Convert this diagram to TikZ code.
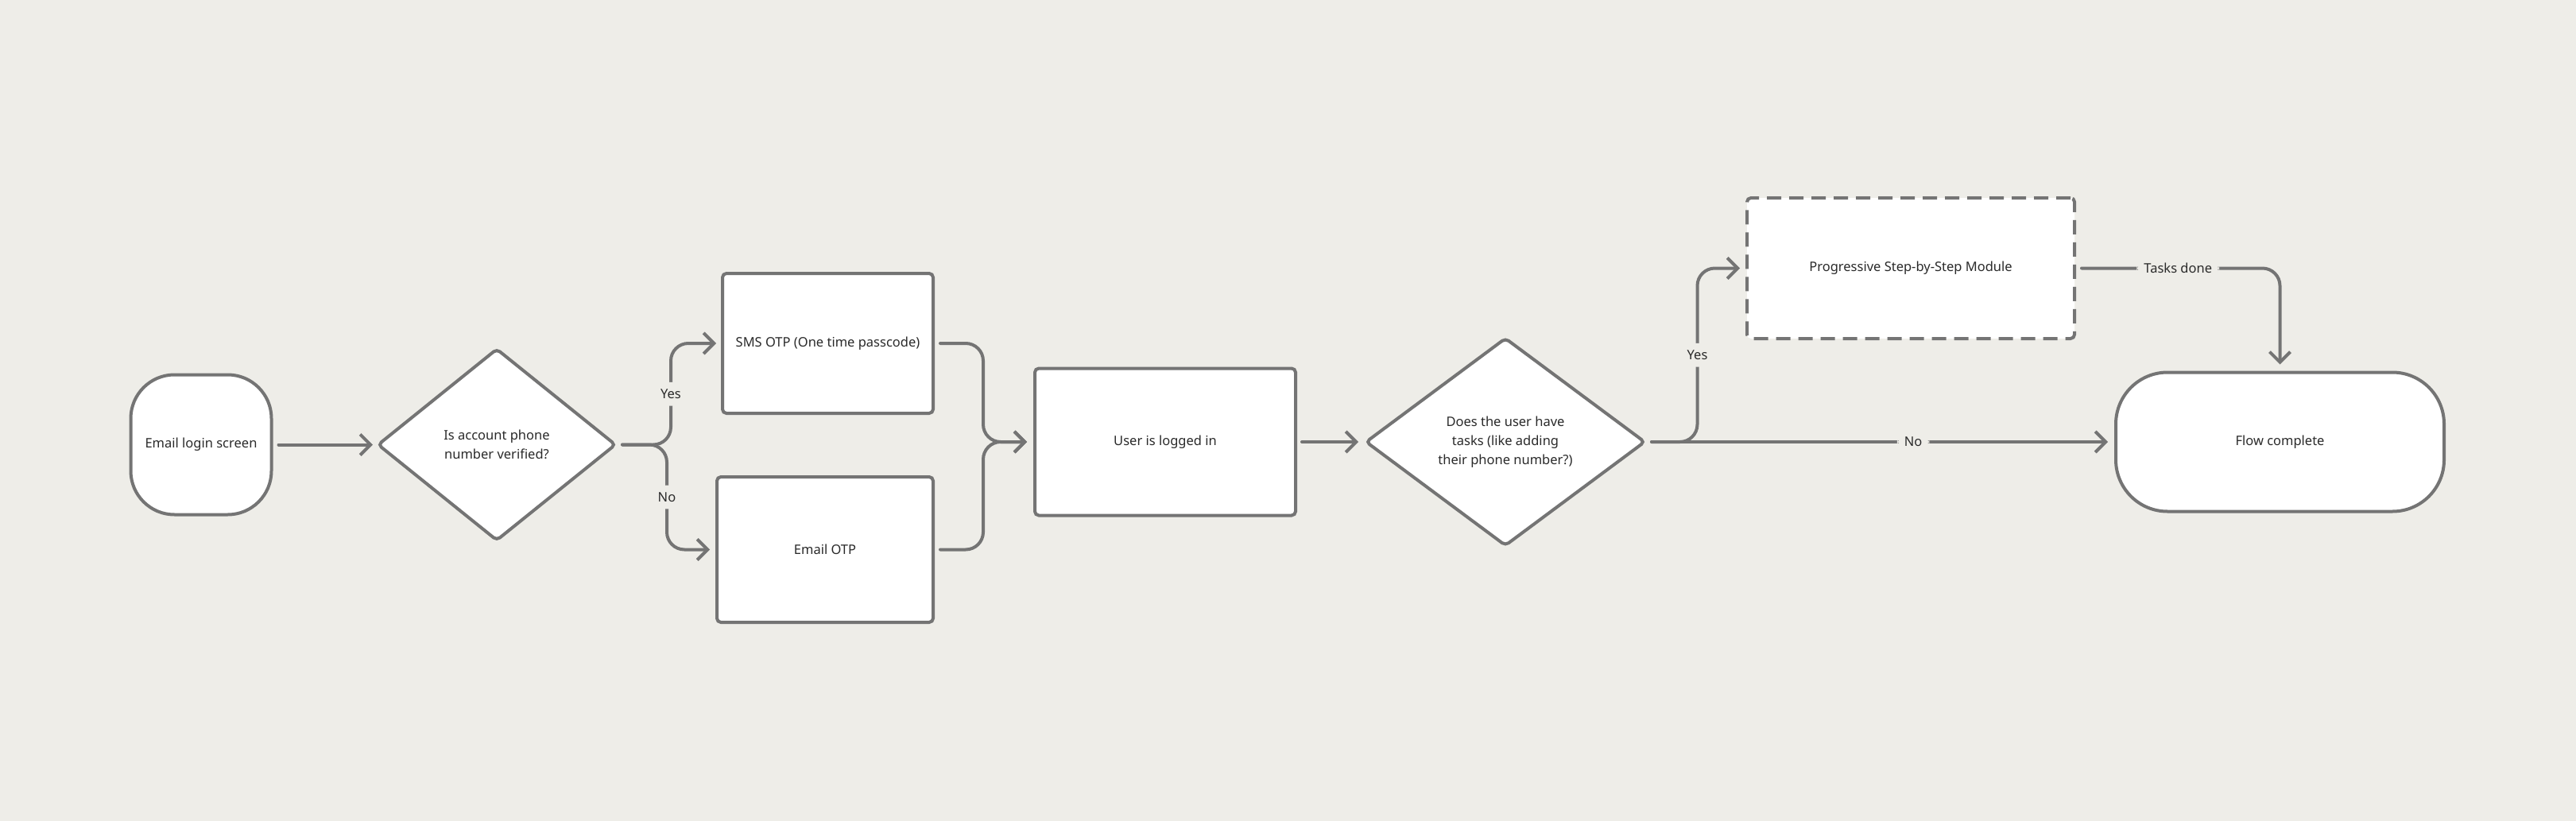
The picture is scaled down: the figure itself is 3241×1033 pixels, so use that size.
\documentclass[tikz,border=0pt]{standalone}
\usepackage{fontspec}
\setmainfont{Noto Sans}
\usetikzlibrary{shapes.geometric,arrows.meta}
\definecolor{bg}{HTML}{EEEDE8}
\definecolor{ln}{HTML}{747474}
\definecolor{tx}{HTML}{2A2A2A}
\begin{document}
\begin{tikzpicture}[x=1pt,y=-1pt,
  base/.style={draw=ln, line width=4pt, fill=white, text=tx,
    font=\fontsize{16.5}{24}\selectfont, align=center, inner sep=0pt},
  rbox/.style={base, rectangle, rounded corners=5pt},
  dia/.style={base, diamond, rounded corners=5pt},
  conn/.style={draw=ln, line width=4pt, line cap=round, rounded corners=22pt,
    -{Straight Barb[length=13pt,width=26pt]}},
  lbl/.style={fill=bg, text=tx, font=\fontsize{16.5}{24}\selectfont, inner sep=9pt}]
\fill[bg] (0,0) rectangle (3241,1033);
\useasboundingbox (0,0) rectangle (3241,1033);

\node[rbox, rounded corners=55pt, minimum width=177pt, minimum height=176pt] (login) at (253,559.5) {Email login screen};
\node[dia, minimum width=300pt, minimum height=242pt] (d1) at (625,559.5) {Is account phone\\number verified?};
\node[rbox, minimum width=265pt, minimum height=176pt] (sms) at (1041.5,432) {SMS OTP (One time passcode)};
\node[rbox, minimum width=272pt, minimum height=183pt] (eotp) at (1038,691.5) {Email OTP};
\node[rbox, minimum width=328pt, minimum height=185pt] (user) at (1466,556) {User is logged in};
\node[dia, minimum width=352pt, minimum height=262pt] (d2) at (1894,556) {Does the user have\\tasks (like adding\\their phone number?)};
\node[rbox, dash pattern=on 18pt off 10pt, minimum width=412pt, minimum height=177pt] (prog) at (2404,337.5) {Progressive Step-by-Step Module};
\node[rbox, rounded corners=65pt, minimum width=413pt, minimum height=175pt] (fc) at (2868.5,556) {Flow complete};

\coordinate (m1) at (1237,556);

\draw[conn, shorten <=7pt, shorten >=4pt] (login.east) -- (d1.west);
\draw[conn, shorten <=6pt, shorten >=6pt] (d1.east) -- ++(67,0) |- node[lbl,pos=0.25]{Yes} (sms.west);
\draw[conn, shorten <=6pt, shorten >=7pt] (d1.east) -- ++(62,0) |- node[lbl,pos=0.25]{No} (eotp.west);
\draw[conn, shorten <=7pt, shorten >=8pt] (sms.east) -| (m1) -- (user.west);
\draw[conn, shorten <=7pt, shorten >=8pt] (eotp.east) -| (m1) -- (user.west);
\draw[conn, shorten <=6pt, shorten >=7pt] (user.east) -- (d2.west);
\draw[conn, shorten <=6pt, shorten >=7pt] (d2.east) -- ++(63.5,0) |- node[lbl,pos=0.25]{Yes} (prog.west);
\draw[conn, shorten <=6pt, shorten >=8pt] (d2.east) -- node[lbl,pos=0.57]{No} (fc.west);
\draw[conn, shorten <=7pt, shorten >=8pt] (prog.east) -| node[lbl,pos=0.25]{Tasks done} (fc.north);
\end{tikzpicture}
\end{document}
